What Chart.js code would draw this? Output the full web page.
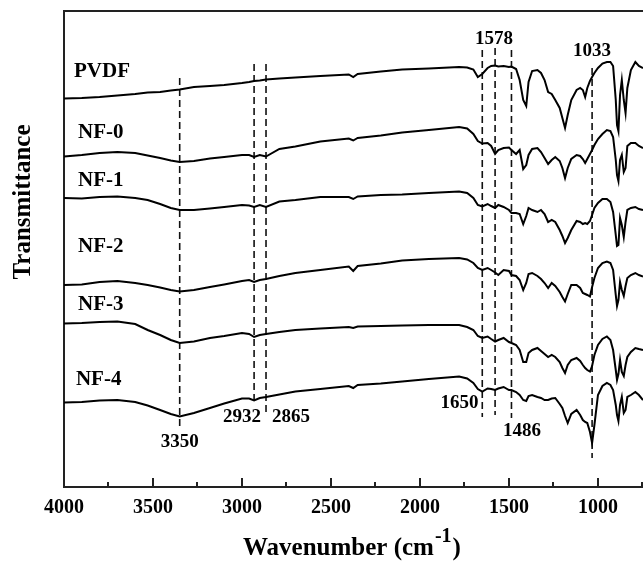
<!DOCTYPE html>
<html lang="en">
<head>
<meta charset="UTF-8">
<title>FTIR spectra</title>
<script src="https://cdn.jsdelivr.net/npm/chart.js"></script>
<style>
    body { margin: 0; background: #fff; }
    #chart-container { width: 643px; height: 562px; }
</style>
</head>
<body>
<div id="chart-container">
    <canvas id="ftirChart"></canvas>
</div>
<script>
    // wavenumber grid (cm-1) shared by every spectrum
    const wavenumbers = [4000, 3900, 3800, 3700, 3600, 3530, 3460, 3400, 3350, 3270,
        3180, 3100, 3000, 2960, 2932, 2900, 2865, 2790, 2700, 2560,
        2400, 2375, 2350, 2220, 2100, 1950, 1780, 1735, 1700, 1675,
        1650, 1620, 1600, 1578, 1560, 1530, 1500, 1486, 1460, 1440,
        1420, 1403, 1390, 1370, 1340, 1320, 1300, 1280, 1260, 1240,
        1215, 1200, 1185, 1170, 1150, 1120, 1100, 1085, 1072, 1060,
        1045, 1033, 1020, 1000, 975, 950, 930, 915, 900, 893,
        885, 876, 866, 855, 845, 835, 815, 790, 770, 747];

    // transmittance (arbitrary units, curves already offset)
    const pvdf = [388.5, 389, 390, 391.5, 393, 394.5, 395, 396.5, 397.5, 400,
        401, 402, 404, 405, 406, 406.5, 407.5, 408.5, 409.5, 411,
        412.5, 410, 413, 415.5, 417.5, 418.5, 420, 419.5, 417.5, 410,
        413, 419, 421, 421.5, 420.5, 421, 420, 420.5, 418, 407,
        387, 381, 405, 416, 417, 414, 407, 395, 393, 387,
        379, 369, 359, 372, 387, 397, 399, 397, 390, 399,
        406, 410, 414, 419, 423.5, 425, 425, 421, 387, 362,
        356, 392, 407, 387, 374, 399, 417, 425, 421, 419];
    const nf0 = [330.5, 332, 334, 335, 334, 331.5, 329, 326.5, 325, 326,
        328.5, 330, 332, 332, 330, 332, 330.5, 338, 340.5, 345.5,
        348.5, 346.5, 349, 351.5, 354.5, 357, 360, 358.5, 353, 346,
        343.5, 344, 341, 333, 337, 339, 339.5, 337, 333, 337,
        318, 322, 332, 338, 339, 335, 329, 323, 327, 330,
        326, 319, 309, 319, 328, 332, 331, 328, 324, 328,
        333, 337, 342, 348, 353, 357, 356, 350, 327, 312,
        306, 327, 332, 315, 319, 341, 344, 344, 341, 339];
    const nf1 = [289, 288.5, 290, 290.5, 289, 287, 283, 279, 277, 277,
        278.5, 280, 282, 281.5, 280, 282, 280, 285.5, 287, 290,
        290, 288, 290.5, 292, 292.5, 294, 295.5, 294, 289, 282,
        280.5, 283, 281, 279, 282, 280, 277, 274, 274, 273,
        263, 271, 279, 277, 275, 277, 273, 265, 267, 265,
        257, 251, 244, 249, 257, 266, 265, 263, 264, 263,
        266, 272, 279, 284, 288, 288, 285, 275, 252, 241,
        242, 269, 262, 250, 265, 277, 279, 280, 278, 277];
    const nf2 = [202, 202.5, 205, 206, 204, 202, 199.5, 197, 195.5, 197,
        200, 202.5, 206, 207, 205, 207, 208, 211, 214, 217,
        220.5, 216, 221, 223.5, 226.5, 228, 229, 227.5, 224, 219,
        217, 219, 217, 214.5, 212, 217, 216, 212, 211, 207,
        197, 204, 213, 214, 211, 208, 204, 199, 204, 201,
        195, 190, 185.5, 193, 202, 202, 199, 194, 193, 192,
        190.5, 200, 209, 219, 224, 225.5, 224, 217, 192, 181,
        187, 205, 197, 191, 201, 209, 212, 214, 212, 210.5];
    const nf3 = [163.5, 164, 165, 165.5, 163, 157, 152, 147, 144, 145.5,
        149, 151, 154, 153, 150, 152, 153, 155, 157, 158.5,
        160, 159, 160.5, 161, 161.5, 162, 162, 160, 157, 151,
        149, 150.5, 148, 145.5, 147, 149, 145, 144, 142, 137,
        125, 125, 134, 137, 139, 136, 133, 130, 132, 130,
        125, 119, 114, 122, 127, 129, 126, 122, 119, 117,
        115.5, 121, 132, 142, 148, 150.5, 147, 137, 117, 107,
        113, 127, 115, 111, 122, 130, 135, 139, 138, 137];
    const nf4 = [84.5, 85, 86.5, 87, 85, 81.5, 77, 73, 70.5, 74,
        79, 83.5, 88.5, 88.5, 86.5, 89, 90, 92.5, 95.5, 98,
        101, 99, 102, 103.5, 105.5, 108, 110.5, 108.5, 104, 98,
        95.5, 98.5, 98, 97, 98.5, 100, 97, 97, 95, 92,
        87, 86, 91, 92, 90, 89, 87, 87, 88.5, 89,
        83, 79, 71, 64, 73, 77, 72, 67, 65, 64,
        55, 44, 62, 92, 101, 104, 102, 97, 82, 72,
        66, 82, 90, 74, 77, 90, 92, 95, 92, 87];

    const seriesNames = ['PVDF', 'NF-0', 'NF-1', 'NF-2', 'NF-3', 'NF-4'];
    const seriesValues = [pvdf, nf0, nf1, nf2, nf3, nf4];
    // where each sample name sits (wavenumber of its left edge, level)
    const nameWavenumber = [3944, 3921, 3921, 3921, 3921, 3933];
    const nameLevel = [415, 354, 306, 240, 182, 107];

    // marked bands: dashed guide lines and their labels
    const peakWavenumbers = [3350, 2932, 2865, 1650, 1578, 1486, 1033];
    const peakLineTop = [409, 423, 423, 437, 439, 437, 419];
    const peakLineBottom = [60, 84, 75, 70, 72, 69, 29];
    const peakLabelX = [3350, 3000, 2725, 1778, 1584, 1427, 1034];
    const peakLabelY = [45, 70, 70, 84, 448, 56, 436];

    const xTicks = [4000, 3750, 3500, 3250, 3000, 2750, 2500, 2250, 2000,
        1750, 1500, 1250, 1000, 750];
    const xMax = 4000;
    const xMin = 747;

    const serif = '"Liberation Serif", "Times New Roman", serif';

    const datasets = seriesValues.map((vals, i) => ({
        label: seriesNames[i],
        data: wavenumbers.map((w, j) => ({ x: w, y: vals[j] })),
        borderColor: '#000',
        borderWidth: 2,
        pointRadius: 0,
        tension: 0,
        fill: false
    }));

    peakWavenumbers.forEach((w, i) => {
        datasets.push({
            label: 'band ' + w,
            data: [{ x: w, y: peakLineTop[i] }, { x: w, y: peakLineBottom[i] }],
            borderColor: '#111',
            borderWidth: 1.6,
            borderDash: [7, 4],
            pointRadius: 0,
            fill: false
        });
    });

    // frame, inward ticks and all the annotation text
    const decorations = {
        id: 'decorations',
        afterDraw(chart) {
            const ctx = chart.ctx;
            const xs = chart.scales.x;
            const ys = chart.scales.y;
            const area = chart.chartArea;
            ctx.save();

            // top border
            ctx.strokeStyle = '#222';
            ctx.lineWidth = 2;
            ctx.beginPath();
            ctx.moveTo(area.left - 1, area.top);
            ctx.lineTo(area.right, area.top);
            ctx.stroke();

            // inward tick marks
            xTicks.forEach(v => {
                const px = Math.round(xs.getPixelForValue(v));
                const len = v % 500 === 0 ? 9 : 5;
                ctx.beginPath();
                ctx.moveTo(px, area.bottom);
                ctx.lineTo(px, area.bottom - len);
                ctx.stroke();
            });

            ctx.fillStyle = '#000';

            // sample names
            ctx.font = 'bold 21px ' + serif;
            ctx.textAlign = 'left';
            ctx.textBaseline = 'middle';
            seriesNames.forEach((name, i) => {
                ctx.fillText(name, xs.getPixelForValue(nameWavenumber[i]), ys.getPixelForValue(nameLevel[i]));
            });

            // band labels
            ctx.font = 'bold 19px ' + serif;
            ctx.textAlign = 'center';
            peakWavenumbers.forEach((w, i) => {
                ctx.fillText(String(w), xs.getPixelForValue(peakLabelX[i]), ys.getPixelForValue(peakLabelY[i]));
            });

            // y axis title
            ctx.save();
            ctx.font = 'bold 25px ' + serif;
            ctx.translate(24, 202);
            ctx.rotate(-Math.PI / 2);
            ctx.textAlign = 'center';
            ctx.fillText('Transmittance', 0, 0);
            ctx.restore();

            // x axis title with superscript
            const main = 'Wavenumber (cm';
            const sup = '-1';
            const close = ')';
            ctx.textBaseline = 'alphabetic';
            ctx.textAlign = 'left';
            ctx.font = 'bold 25px ' + serif;
            const wMain = ctx.measureText(main).width;
            const x0 = 243;
            const base = 555;
            ctx.fillText(main, x0, base);
            ctx.font = 'bold 20px ' + serif;
            const wSup = ctx.measureText(sup).width;
            ctx.fillText(sup, x0 + wMain + 1, base - 13);
            ctx.font = 'bold 25px ' + serif;
            ctx.fillText(close, x0 + wMain + wSup + 2, base);

            ctx.restore();
        }
    };

    const chart = new Chart(document.getElementById('ftirChart'), {
        type: 'line',
        data: { datasets: datasets },
        options: {
            responsive: true,
            maintainAspectRatio: false,
            devicePixelRatio: 1,
            animation: false,
            layout: { padding: { top: 11, right: 0, left: 0, bottom: 0 } },
            plugins: {
                legend: { display: false },
                tooltip: { enabled: false }
            },
            scales: {
                x: {
                    type: 'linear',
                    reverse: true,
                    min: xMin,
                    max: xMax,
                    afterBuildTicks: (scale) => {
                        scale.ticks = xTicks.map(v => ({ value: v }));
                    },
                    afterFit: (scale) => {
                        scale.height = 75;
                        // plot runs right to the edge of the picture
                        scale.paddingLeft = 0;
                        scale.paddingRight = 0;
                    },
                    grid: { display: false, drawTicks: false },
                    border: { display: true, color: '#222', width: 2 },
                    ticks: {
                        autoSkip: false,
                        maxRotation: 0,
                        padding: 9,
                        color: '#000',
                        font: { family: serif, size: 20, weight: 'bold' },
                        callback: (v) => (v % 500 === 0 ? String(v) : '')
                    }
                },
                y: {
                    type: 'linear',
                    min: 0,
                    max: 476,
                    afterFit: (scale) => { scale.width = 64; },
                    grid: { display: false, drawTicks: false },
                    border: { display: true, color: '#222', width: 2 },
                    ticks: { display: false }
                }
            }
        },
        plugins: [decorations]
    });
</script>
</body>
</html>
